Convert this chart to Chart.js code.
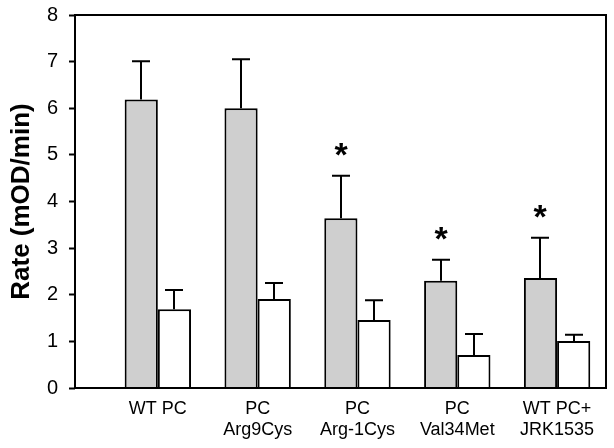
<!DOCTYPE html>
<html>
<head>
<meta charset="utf-8">
<script src="https://cdn.jsdelivr.net/npm/chart.js@4.4.1/dist/chart.umd.min.js"></script>
<style>
  html, body { margin: 0; padding: 0; background: #ffffff; }
  #wrap { width: 614px; height: 448px; }
</style>
</head>
<body>
<div id="wrap"><canvas id="c" width="614" height="448"></canvas></div>
<script>
// ---- data ----
const categories = [["WT PC"], ["PC", "Arg9Cys"], ["PC", "Arg-1Cys"], ["PC", "Val34Met"], ["WT PC+", "JRK1535"]];
const positions = [1, 2, 3, 4, 5];
const greyValues = [6.19, 6.00, 3.64, 2.30, 2.36];
const greyErrors = [0.82, 1.05, 0.91, 0.45, 0.86];
const whiteValues = [1.69, 1.91, 1.46, 0.71, 1.01];
const whiteErrors = [0.41, 0.34, 0.42, 0.45, 0.13];
const significant = [false, false, true, true, true];
const yTicks = [0, 1, 2, 3, 4, 5, 6, 7, 8];

const FONT = "'Liberation Sans', Arial, Helvetica, sans-serif";

const errorBarPlugin = {
  id: 'errorBars',
  afterDatasetsDraw(chart) {
    const ctx = chart.ctx;
    const yScale = chart.scales.y;
    ctx.save();
    ctx.strokeStyle = '#000';
    ctx.lineWidth = 2;
    chart.data.datasets.forEach((ds, i) => {
      const meta = chart.getDatasetMeta(i);
      meta.data.forEach((el, j) => {
        const v = ds.data[j].y;
        const e = ds.errors[j];
        const yTop = yScale.getPixelForValue(v + e);
        const x = Math.round(el.x);
        ctx.beginPath();
        ctx.moveTo(x, el.y);
        ctx.lineTo(x, yTop);
        ctx.moveTo(x - 9, yTop);
        ctx.lineTo(x + 9, yTop);
        ctx.stroke();
        if (ds.sig && ds.sig[j]) {
          ctx.fillStyle = '#000';
          ctx.font = 'bold 34px ' + FONT;
          ctx.textAlign = 'center';
          ctx.textBaseline = 'alphabetic';
          const m = ctx.measureText('*');
          const cy = yTop - 26;
          const base = cy + (m.actualBoundingBoxAscent - m.actualBoundingBoxDescent) / 2;
          ctx.fillText('*', x, base);
        }
      });
    });
    ctx.restore();
  }
};

const framePlugin = {
  id: 'frame',
  afterDraw(chart) {
    const a = chart.chartArea;
    const ctx = chart.ctx;
    ctx.save();
    ctx.strokeStyle = '#000';
    ctx.lineWidth = 2;
    ctx.strokeRect(a.left, a.top, a.right - a.left, a.bottom - a.top);
    ctx.restore();
  }
};

new Chart(document.getElementById('c'), {
  type: 'bar',
  data: {
    datasets: [
      {
        label: 'grey',
        data: positions.map((p, i) => ({ x: p, y: greyValues[i] })),
        errors: greyErrors,
        sig: significant,
        backgroundColor: '#cfcfcf',
        borderColor: '#000',
        borderWidth: 2,
        categoryPercentage: 0.665,
        barPercentage: 1.0
      },
      {
        label: 'white',
        data: positions.map((p, i) => ({ x: p, y: whiteValues[i] })),
        errors: whiteErrors,
        backgroundColor: '#ffffff',
        borderColor: '#000',
        borderWidth: 2,
        categoryPercentage: 0.665,
        barPercentage: 1.0
      }
    ]
  },
  options: {
    responsive: false,
    animation: false,
    devicePixelRatio: 1,
    layout: { padding: { top: 15, right: 8, left: 0, bottom: 0 } },
    plugins: { legend: { display: false }, tooltip: { enabled: false } },
    scales: {
      x: {
        type: 'linear',
        offset: false,
        min: 0.17,
        max: 5.49,
        afterBuildTicks(scale) { scale.ticks = positions.map(v => ({ value: v })); },
        afterFit(scale) { scale.height = 60; scale.paddingLeft = 0; scale.paddingRight = 0; },
        grid: { display: false, drawTicks: false },
        border: { display: false },
        ticks: {
          autoSkip: false,
          maxRotation: 0,
          padding: 10,
          color: '#000',
          font: { family: FONT, size: 18, lineHeight: 1.2 },
          callback(value) {
            const idx = positions.indexOf(value);
            return idx >= 0 ? categories[idx] : '';
          }
        }
      },
      y: {
        min: 0,
        max: 8,
        afterBuildTicks(scale) { scale.ticks = yTicks.map(v => ({ value: v })); },
        afterFit(scale) { scale.width = 75; scale.paddingTop = 0; scale.paddingBottom = 0; },
        grid: { drawOnChartArea: false, drawTicks: true, tickLength: 6, tickWidth: 2, color: '#000' },
        border: { display: false },
        ticks: {
          padding: 11,
          color: '#000',
          font: { family: FONT, size: 20 }
        },
        title: {
          display: true,
          text: 'Rate (mOD/min)',
          color: '#000',
          font: { family: FONT, size: 26, weight: 'bold' },
          padding: { top: 6, bottom: 0 }
        }
      }
    }
  },
  plugins: [errorBarPlugin, framePlugin]
});
</script>
</body>
</html>
